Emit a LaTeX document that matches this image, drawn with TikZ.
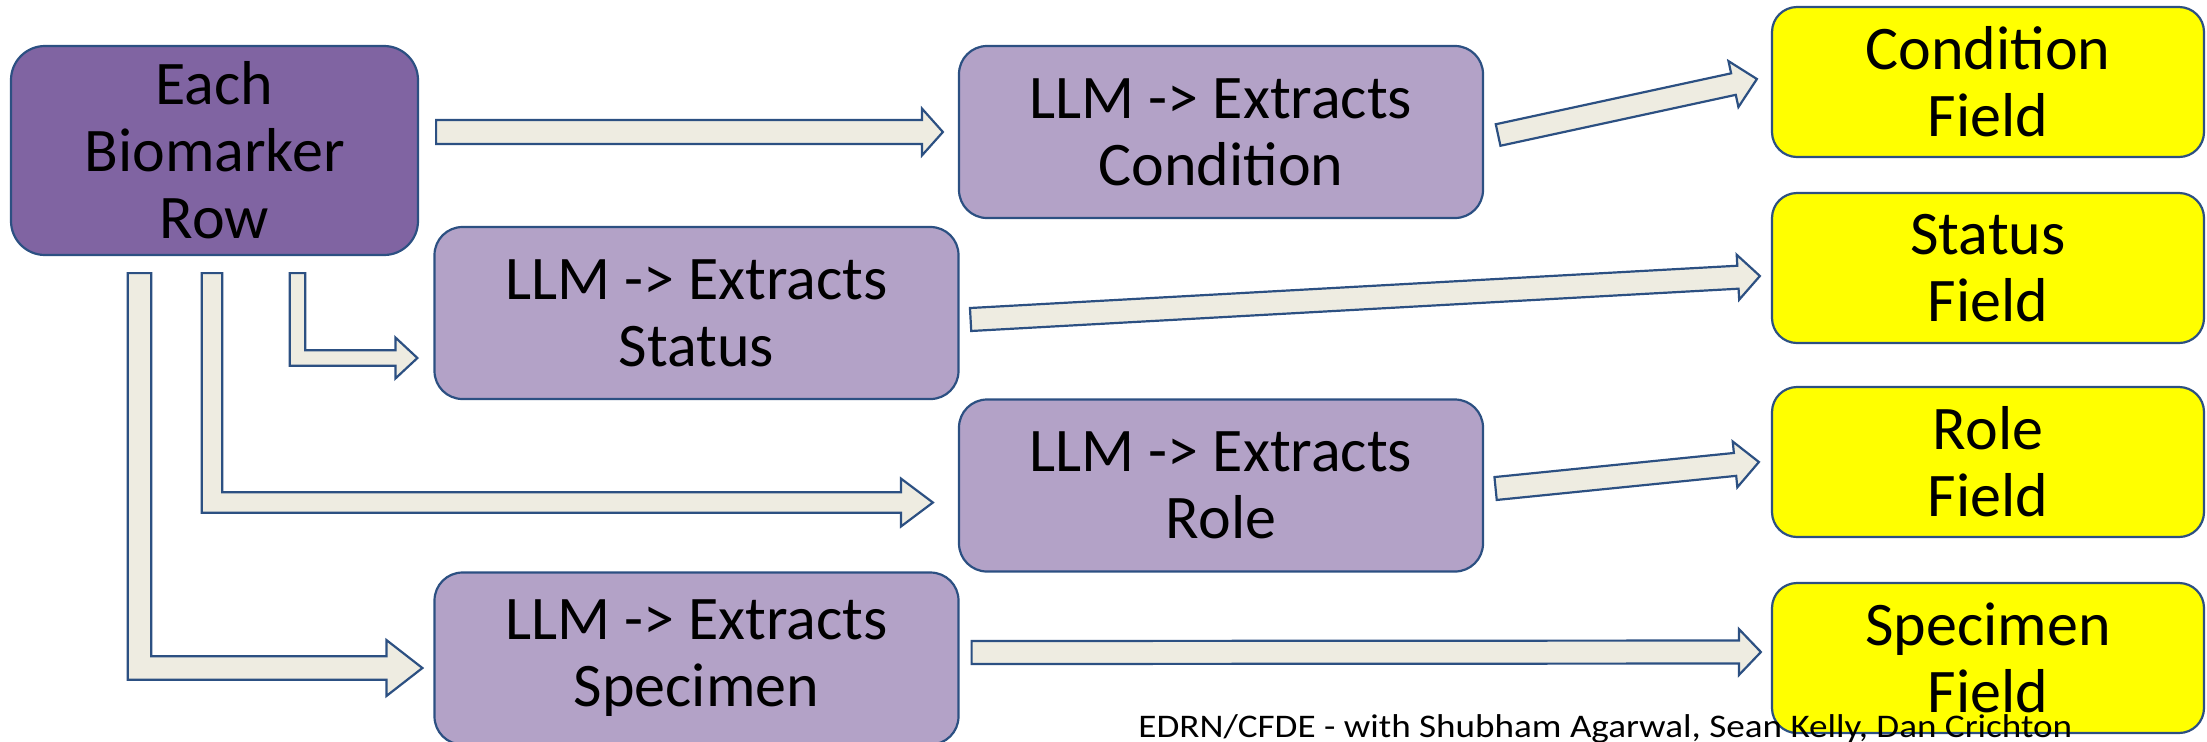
\documentclass[tikz,border=0pt]{standalone}
\usepackage{fontspec}
\setmainfont{Carlito}
\usetikzlibrary{calc}
\definecolor{edge}{RGB}{44,80,130}
\definecolor{rowfill}{HTML}{8064A2}
\definecolor{llmfill}{HTML}{B3A2C7}
\definecolor{arrowfill}{HTML}{EEECE1}
\definecolor{fieldfill}{HTML}{FFFF00}
\tikzset{
  box/.style={draw=edge, line width=1.1pt, align=center, inner sep=0pt,
    font=\fontsize{31}{33.5}\selectfont},
  rowbox/.style={box, fill=rowfill, minimum width=203.5pt, minimum height=104.5pt, rounded corners=17pt},
  llmbox/.style={box, fill=llmfill, minimum width=262pt, minimum height=86pt, rounded corners=14pt},
  fieldbox/.style={box, fill=fieldfill, minimum width=216pt, minimum height=75pt, rounded corners=12.5pt},
  blockarrow/.style={draw=edge, fill=arrowfill, line width=1.1pt, line join=miter}
}
% straight block arrow: tail, tip, half shaft, half head, head length (pt)
\newcommand{\straightarrow}[5]{%
  \draw[blockarrow] ($(#1)!#3!90:(#2)$) -- ($(#2)!#5!(#1)!#3!90:(#2)$)
    -- ($(#2)!#5!(#1)!#4!90:(#2)$) -- (#2) -- ($(#2)!#5!(#1)!#4!-90:(#2)$)
    -- ($(#2)!#5!(#1)!#3!-90:(#2)$) -- ($(#1)!#3!-90:(#2)$) -- cycle;}
% bent block arrow: top of stem, tip, half shaft, half head, head length (px)
\newcommand{\bentarrow}[5]{%
  \draw[blockarrow] ($(#1)+(-#3,0)$) -- ($(#1 |- #2)+(-#3,#3)$) -- ($(#2)+(-#5,#3)$)
    -- ($(#2)+(-#5,#4)$) -- (#2) -- ($(#2)+(-#5,-#4)$) -- ($(#2)+(-#5,-#3)$)
    -- ($(#1 |- #2)+(#3,-#3)$) -- ($(#1)+(#3,0)$) -- cycle;}
\begin{document}
\begin{tikzpicture}[x=0.5pt,y=-0.5pt]
\useasboundingbox (0,0) rectangle (2207,741);
% boxes
\node[rowbox] (row) at (214.5,150.5) {Each\\Biomarker\\Row};
\node[llmbox] (condllm) at (1221,132) {LLM -> Extracts\\Condition};
\node[llmbox] (statllm) at (696.5,313) {LLM -> Extracts\\Status};
\node[llmbox] (rolellm) at (1221,485.5) {LLM -> Extracts\\Role};
\node[llmbox] (specllm) at (696.5,658.5) {LLM -> Extracts\\Specimen};
\node[fieldbox] (condfield) at (1988,82) {Condition\\Field};
\node[fieldbox] (statfield) at (1988,268) {Status\\Field};
\node[fieldbox] (rolefield) at (1988,462) {Role\\Field};
\node[fieldbox] (specfield) at (1988,658) {Specimen\\Field};
% arrows out of the row box
\coordinate (a1s) at ($(row.east |- condllm.west)+(17,0)$);
\coordinate (a1e) at ($(condllm.west)+(-15,0)$);
\straightarrow{a1s}{a1e}{6pt}{11.75pt}{10.5pt}
\coordinate (a2s) at ($(row.south)+(83,17)$);
\coordinate (a2e) at ($(statllm.west)+(-16,45)$);
\bentarrow{a2s}{a2e}{7.75}{20.5}{22}
\coordinate (a3s) at ($(row.south)+(-2.5,17)$);
\coordinate (a3e) at ($(rolellm.west)+(-25,17)$);
\bentarrow{a3s}{a3e}{10.25}{24}{32}
\coordinate (a4s) at ($(row.south)+(-75,17)$);
\coordinate (a4e) at ($(specllm.west)+(-11,9.5)$);
\bentarrow{a4s}{a4e}{11.75}{28}{36}
% arrows into the fields
\coordinate (a5s) at ($(condllm.east)+(14,3)$);
\coordinate (a5e) at ($(condfield.west)+(-14,-3)$);
\straightarrow{a5s}{a5e}{5.5pt}{11.75pt}{12pt}
\coordinate (a6s) at ($(statllm.east)+(11,6.5)$);
\coordinate (a6e) at ($(statfield.west)+(-11,8)$);
\straightarrow{a6s}{a6e}{5.75pt}{11.25pt}{11pt}
\coordinate (a7s) at ($(rolellm.east)+(11.5,3)$);
\coordinate (a7e) at ($(rolefield.west)+(-12,0)$);
\straightarrow{a7s}{a7e}{5.75pt}{11.5pt}{12pt}
\coordinate (a8s) at ($(specllm.east)+(12,-6)$);
\coordinate (a8e) at ($(specfield.west)+(-10,-6)$);
\straightarrow{a8s}{a8e}{5.75pt}{11.5pt}{11pt}
\node[anchor=base west, inner sep=0pt, xscale=1.125, font=\fontsize{16.5}{19}\selectfont] (credit) at (1138,737) {EDRN/CFDE - with Shubham Agarwal, Sean Kelly, Dan Crichton};
\end{tikzpicture}
\end{document}
